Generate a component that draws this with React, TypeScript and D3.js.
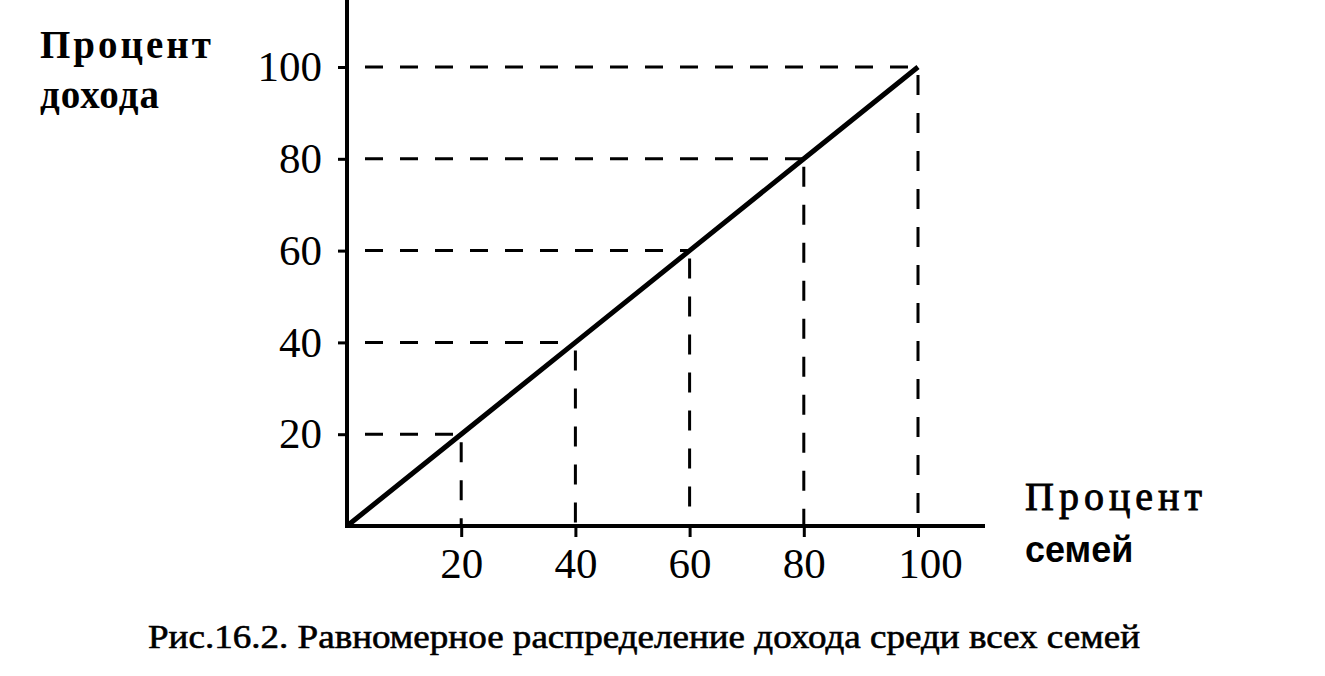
import { useEffect, useRef } from 'react';
import * as d3 from 'd3';

// percent of families (x) and percent of income (y)
const families = [0, 20, 40, 60, 80, 100];
const income = [0, 20, 40, 60, 80, 100];
const xTicks = [20, 40, 60, 80, 100];
const yTicks = [20, 40, 60, 80, 100];

const App = () => {
  const ref = useRef<SVGSVGElement>(null!);

  useEffect(() => {
    const svg = d3.select(ref.current);
    svg.selectAll('*').remove();
    const font = '"Liberation Serif", "Times New Roman", serif';

    const x = d3.scaleLinear().domain([0, 100]).range([347, 918]);
    const y = d3.scaleLinear().domain([0, 100]).range([526, 67]);

    const points = families.map((f, i) => [f, income[i]] as [number, number]);

    // dashed guides
    const guides = svg.append('g').attr('stroke', '#000').attr('stroke-width', 3).attr('fill', 'none');
    points.slice(1).forEach(([f, v]) => {
      guides
        .append('line')
        .attr('x1', x(0))
        .attr('x2', x(f))
        .attr('y1', y(v))
        .attr('y2', y(v))
        .attr('stroke-dasharray', '18 17')
        .attr('stroke-dashoffset', -18);
      guides
        .append('line')
        .attr('x1', x(f))
        .attr('x2', x(f))
        .attr('y1', y(v) + 8)
        .attr('y2', y(0))
        .attr('stroke-dasharray', '20 18');
    });

    // axes lines
    svg.append('line').attr('x1', x(0)).attr('x2', x(0)).attr('y1', 0).attr('y2', y(0) + 2)
      .attr('stroke', '#000').attr('stroke-width', 4);
    svg.append('line').attr('x1', x(0) - 2).attr('x2', 985).attr('y1', y(0)).attr('y2', y(0))
      .attr('stroke', '#000').attr('stroke-width', 4);

    const yAxis = svg
      .append('g')
      .attr('transform', `translate(${x(0)},0)`)
      .call(d3.axisLeft(y).tickValues(yTicks).tickSize(9).tickPadding(16));
    yAxis.select('.domain').remove();
    yAxis.selectAll('line').attr('stroke-width', 3);
    yAxis.selectAll('text').attr('font-family', font).attr('font-size', 43).attr('fill', '#000');

    const xAxis = svg
      .append('g')
      .attr('transform', `translate(0,${y(0)})`)
      .call(d3.axisBottom(x).tickValues(xTicks).tickSize(11).tickPadding(10));
    xAxis.select('.domain').remove();
    xAxis.selectAll('line').attr('stroke-width', 3);
    xAxis.selectAll('text').attr('font-family', font).attr('font-size', 43).attr('fill', '#000')
      .attr('dx', (_d, i) => (i === 4 ? 12 : 0));

    // equal distribution line
    const line = d3.line<[number, number]>().x(d => x(d[0])).y(d => y(d[1]));
    svg.append('path').datum(points).attr('d', line).attr('fill', 'none')
      .attr('stroke', '#000').attr('stroke-width', 5);

    // labels
    svg.append('text').attr('x', 40).attr('y', 58).attr('font-family', font).attr('font-weight', 'bold')
      .attr('font-size', 39).attr('letter-spacing', 3).text('Процент');
    svg.append('text').attr('x', 40).attr('y', 108).attr('font-family', font).attr('font-weight', 'bold')
      .attr('font-size', 39).attr('letter-spacing', 1).text('дохода');
    svg.append('text').attr('x', 1025).attr('y', 510).attr('font-family', font)
      .attr('font-size', 40).attr('letter-spacing', 5).attr('stroke', '#000').attr('stroke-width', 0.9)
      .text('Процент');
    svg.append('text').attr('x', 1025).attr('y', 562).attr('font-family', '"Liberation Sans", Arial, sans-serif')
      .attr('font-weight', 'bold').attr('font-size', 36).text('семей');
    svg.append('text').attr('x', 148).attr('y', 648).attr('font-family', font)
      .attr('font-size', 33).attr('textLength', 992).attr('lengthAdjust', 'spacingAndGlyphs')
      .attr('stroke', '#000').attr('stroke-width', 0.6)
      .text('Рис.16.2. Равномерное распределение дохода среди всех семей');
  }, []);

  return (
    <svg
      ref={ref}
      width={1325}
      height={676}
      style={{ position: 'absolute', left: 0, top: 0, background: '#fff' }}
    />
  );
};

export default App;
